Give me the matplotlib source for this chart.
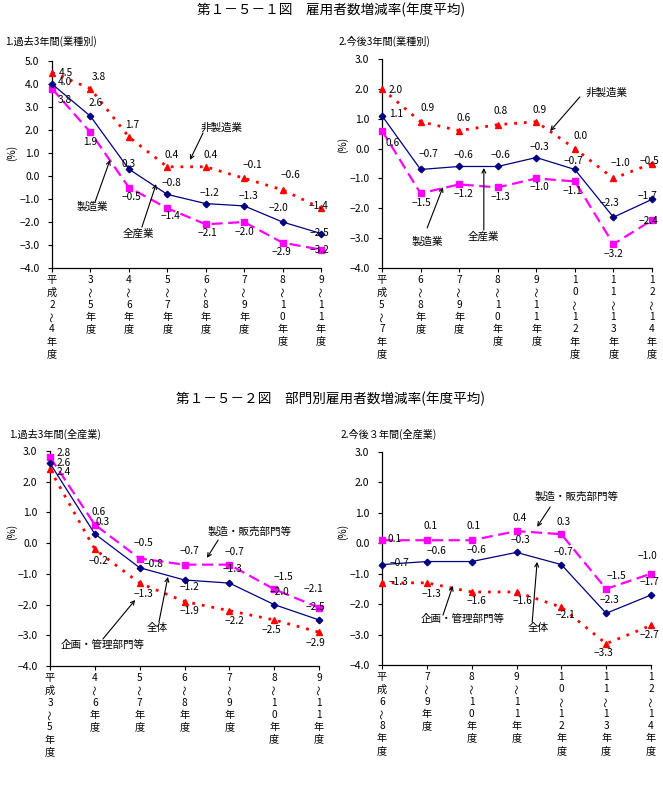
import matplotlib
matplotlib.use("Agg")
import matplotlib.pyplot as plt
import numpy as np

plt.rcParams['font.family'] = ['Noto Sans CJK JP', 'DejaVu Sans']
plt.rcParams['axes.unicode_minus'] = True

W, H = 663, 791
DPI = 100

# ---------------- data ----------------
title1 = "第１－５－１図　雇用者数増減率(年度平均)"
title2 = "第１－５－２図　部門別雇用者数増減率(年度平均)"

p1_title = "1.過去3年間(業種別)"
p1_cats = ["平成2～4年度", "3～5年度", "4～6年度", "5～7年度", "6～8年度", "7～9年度", "8～10年度", "9～11年度"]
p1_all = [4.0, 2.6, 0.3, -0.8, -1.2, -1.3, -2.0, -2.5]
p1_mfg = [3.8, 1.9, -0.5, -1.4, -2.1, -2.0, -2.9, -3.2]
p1_non = [4.5, 3.8, 1.7, 0.4, 0.4, -0.1, -0.6, -1.4]

p2_title = "2.今後3年間(業種別)"
p2_cats = ["平成5～7年度", "6～8年度", "7～9年度", "8～10年度", "9～11年度", "10～12年度", "11～13年度", "12～14年度"]
p2_all = [1.1, -0.7, -0.6, -0.6, -0.3, -0.7, -2.3, -1.7]
p2_mfg = [0.6, -1.5, -1.2, -1.3, -1.0, -1.1, -3.2, -2.4]
p2_non = [2.0, 0.9, 0.6, 0.8, 0.9, 0.0, -1.0, -0.5]

p3_title = "1.過去3年間(全産業)"
p3_cats = ["平成3～5年度", "4～6年度", "5～7年度", "6～8年度", "7～9年度", "8～10年度", "9～11年度"]
p3_all = [2.6, 0.3, -0.8, -1.2, -1.3, -2.0, -2.5]
p3_sales = [2.8, 0.6, -0.5, -0.7, -0.7, -1.5, -2.1]
p3_admin = [2.4, -0.2, -1.3, -1.9, -2.2, -2.5, -2.9]

p4_title = "2.今後３年間(全産業)"
p4_cats = ["平成6～8年度", "7～9年度", "8～10年度", "9～11年度", "10～12年度", "11～13年度", "12～14年度"]
p4_all = [-0.7, -0.6, -0.6, -0.3, -0.7, -2.3, -1.7]
p4_sales = [0.1, 0.1, 0.1, 0.4, 0.3, -1.5, -1.0]
p4_admin = [-1.3, -1.3, -1.6, -1.6, -2.1, -3.3, -2.7]

# ---------------- styles ----------------
NAVY = "#000080"
MAG = "#FF00FF"
RED = "#FF0000"
FS = 7.3

def minus(s):
    return s.replace('-', '−')

fig = plt.figure(figsize=(W / DPI, H / DPI), dpi=DPI)

def add_ax(left, right, top, bottom):
    return fig.add_axes([left / W, 1 - bottom / H, (right - left) / W, (bottom - top) / H])

def setup(ax, cats, ymin, ymax):
    n = len(cats)
    ax.set_xlim(0, n - 1)
    ax.set_ylim(ymin, ymax)
    for s in ['top', 'right']:
        ax.spines[s].set_visible(False)
    for s in ['left', 'bottom']:
        ax.spines[s].set_linewidth(0.9)
    yt = np.arange(ymin, ymax + 0.5, 1.0)
    ax.set_yticks(yt)
    ax.set_yticklabels([minus(f"{v:.1f}") for v in yt], fontsize=FS + 0.2)
    ax.tick_params(axis='y', length=3, width=0.8, pad=6, direction='out')
    ax.set_xticks(range(n))
    ax.set_xticklabels([])
    ax.tick_params(axis='x', length=3, width=0.8, direction='out')
    for i, lab in enumerate(cats):
        for j, ch in enumerate(lab):
            rot = 90 if ch == '～' else 0
            ax.annotate(ch, xy=(i, 0), xycoords=('data', 'axes fraction'),
                        xytext=(0, -(12 + j * 12.3)), textcoords='offset pixels',
                        ha='center', va='center', fontsize=FS, rotation=rot,
                        annotation_clip=False)

def draw(ax, vals, color, style, offsets):
    x = np.arange(len(vals))
    if style == 'solid':
        ax.plot(x, vals, color=color, lw=0.9, marker='D', ms=3.3, clip_on=False, zorder=4)
    elif style == 'dash':
        ax.plot(x, vals, color=color, lw=1.6, dashes=(5, 2.5), marker='s', ms=4.3, clip_on=False, zorder=3)
    else:
        ax.plot(x, vals, color=color, lw=2.0, dashes=(1, 2.5), marker='^', ms=4.8, clip_on=False, zorder=3)
    for i, (v, off) in enumerate(zip(vals, offsets)):
        ax.annotate(minus(f"{v:.1f}"), xy=(i, v), xytext=off, textcoords='offset pixels',
                    ha='center', va='center', fontsize=FS, annotation_clip=False, zorder=6)

def pointer(ax, text, txy, start, tip):
    ax.text(txy[0], txy[1], text, ha='center', va='center', fontsize=FS + 0.3, zorder=7)
    ax.annotate('', xy=tip, xytext=start,
                arrowprops=dict(arrowstyle='->', lw=0.8, color='black',
                                shrinkA=0, shrinkB=0, mutation_scale=7), zorder=7)

# titles
fig.text(331 / W, 1 - 10 / H, title1, ha='center', va='center', fontsize=9.8)
fig.text(330 / W, 1 - 399 / H, title2, ha='center', va='center', fontsize=9.8)

# subtitles & (%) labels
fig.text(5 / W, 1 - 41 / H, p1_title, ha='left', va='center', fontsize=FS)
fig.text(339 / W, 1 - 41 / H, p2_title, ha='left', va='center', fontsize=FS)
fig.text(9 / W, 1 - 434 / H, p3_title, ha='left', va='center', fontsize=FS)
fig.text(341 / W, 1 - 434 / H, p4_title, ha='left', va='center', fontsize=FS)
for (px, py) in [(12, 153), (343, 145), (12, 532), (343, 532)]:
    fig.text(px / W, 1 - py / H, "(%)", rotation=90, ha='center', va='center', fontsize=FS)

# ---------------- panel 1 ----------------
ax1 = add_ax(52, 321, 61, 268)
setup(ax1, p1_cats, -4.0, 5.0)
draw(ax1, p1_non, RED, 'dot', [(14, 0), (8, 12), (3, 12), (4, 12), (5, 12), (8, 13), (8, 15), (-2, 2)])
draw(ax1, p1_mfg, MAG, 'dash', [(13, -11), (0, -10), (3, -9), (3, -8), (2, -9), (0, -10), (-1, -9), (-2, 0)])
draw(ax1, p1_all, NAVY, 'solid', [(13, 2), (5, 13), (0, 5), (4, 11), (4, 11), (4, 10), (-4, 14), (-2, 1)])
pointer(ax1, "非製造業", (4.42, 2.09), (3.93, 1.87), (3.59, 0.70))
pointer(ax1, "製造業", (1.04, -1.35), (1.12, -1.13), (1.51, 0.70))
pointer(ax1, "全産業", (2.24, -2.52), (2.34, -2.22), (2.71, -0.35))

# ---------------- panel 2 ----------------
ax2 = add_ax(382, 652, 59, 268)
setup(ax2, p2_cats, -4.0, 3.0)
draw(ax2, p2_non, RED, 'dot', [(14, -1), (7, 14), (4, 13), (3, 14), (3, 12), (6, 13), (7, 15), (-3, 2)])
draw(ax2, p2_mfg, MAG, 'dash', [(11, -12), (1, -10), (4, -10), (3, -10), (3, -9), (-2, -10), (0, -10), (-3, -1)])
draw(ax2, p2_all, NAVY, 'solid', [(14, 2), (8, 15), (4, 11), (3, 11), (3, 11), (-1, 8), (-4, 14), (-5, 3)])
pointer(ax2, "非製造業", (5.83, 1.86), (5.13, 1.73), (4.36, 0.59))
pointer(ax2, "製造業", (1.17, -3.13), (1.17, -2.66), (1.58, -1.29))
pointer(ax2, "全産業", (2.62, -2.96), (2.64, -2.73), (2.64, -0.65))

# ---------------- panel 3 ----------------
ax3 = add_ax(50, 319, 451, 666)
setup(ax3, p3_cats, -4.0, 3.0)
draw(ax3, p3_admin, RED, 'dot', [(14, -3), (4, -12), (4, -11), (5, -9), (5, -10), (-3, -10), (-4, -11)])
draw(ax3, p3_sales, MAG, 'dash', [(14, 4), (4, 13), (4, 15), (5, 14), (5, 13), (9, 12), (-6, 19)])
draw(ax3, p3_all, NAVY, 'solid', [(14, 0), (8, 12), (14, 4), (5, -7), (3, 14), (5, 13), (-4, 13)])
pointer(ax3, "製造・販売部門等", (4.46, 0.36), (3.75, 0.10), (3.50, -0.48))
pointer(ax3, "全体", (2.39, -2.76), (2.43, -2.57), (2.63, -1.10))
pointer(ax3, "企画・管理部門等", (1.18, -3.32), (1.18, -3.12), (1.90, -1.85))

# ---------------- panel 4 ----------------
ax4 = add_ax(382, 651, 452, 665)
setup(ax4, p4_cats, -4.0, 3.0)
draw(ax4, p4_admin, RED, 'dot', [(16, 1), (5, -11), (5, -9), (6, -9), (4, -8), (-3, -9), (-2, -10)])
draw(ax4, p4_sales, MAG, 'dash', [(13, 1), (4, 14), (2, 14), (3, 13), (2, 12), (10, 13), (-4, 18)])
draw(ax4, p4_all, NAVY, 'solid', [(17, 2), (10, 11), (5, 12), (4, 12), (2, 13), (3, 13), (-2, 13)])
pointer(ax4, "製造・販売部門等", (4.35, 1.55), (3.75, 1.19), (3.46, 0.54))
pointer(ax4, "全体", (3.48, -2.78), (3.35, -2.59), (3.46, -0.61))
pointer(ax4, "企画・管理部門等", (1.81, -2.49), (1.36, -2.36), (1.58, -1.40))

fig.savefig("out.png", dpi=DPI)
